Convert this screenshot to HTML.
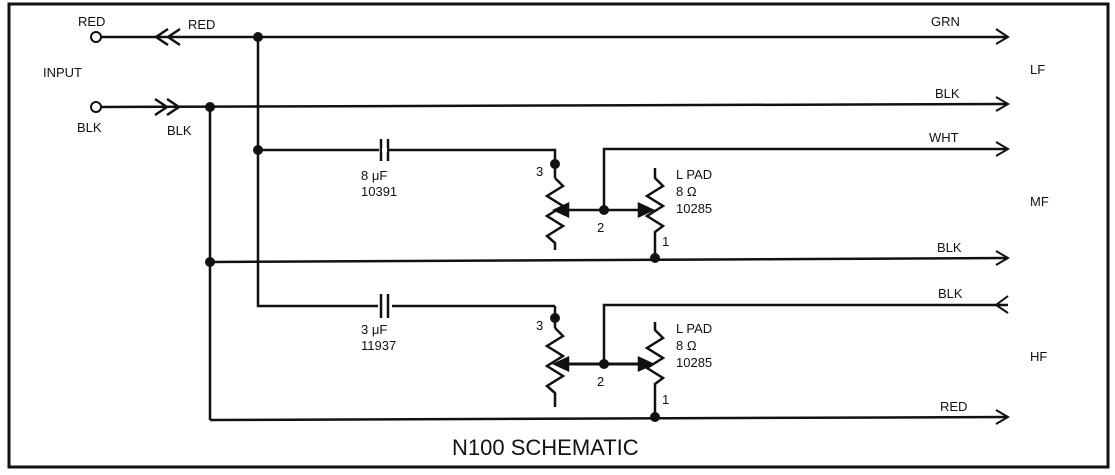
<!DOCTYPE html>
<html><head><style>
body{margin:0;background:#fff;}
svg{display:block;}
text{font-family:"Liberation Sans",sans-serif;fill:#111;font-size:13px;}
</style></head><body>
<svg width="1115" height="475" viewBox="0 0 1115 475" xmlns="http://www.w3.org/2000/svg">
<g stroke="#111" fill="none" stroke-width="2.5">
<rect x="9" y="4" width="1099" height="463" stroke-width="3"/>
<circle cx="96" cy="37" r="5" stroke-width="2"/>
<line x1="101" y1="37" x2="1008" y2="37"/>
<polyline points="168,29 156,37 168,45"/><polyline points="180,29 168,37 180,45"/>
<polyline points="996,29 1008,37 996,44" stroke-width="2"/>
<circle cx="96" cy="107" r="5" stroke-width="2"/>
<line x1="101" y1="107" x2="1008" y2="104"/>
<polyline points="155,99 167,107 155,115"/><polyline points="167,99 179,107 167,115"/>
<polyline points="996,97 1008,104 996,111" stroke-width="2"/>
<polyline points="258,37 258,306 555,306"/>
<line x1="210" y1="107" x2="210" y2="420"/>
<line x1="210" y1="262" x2="1008" y2="258"/>
<polyline points="996,251 1008,258 996,265" stroke-width="2"/>
<line x1="210" y1="420" x2="1008" y2="417"/>
<polyline points="996,410 1008,417 996,424" stroke-width="2"/>
<polyline points="258,150 555,150 555,178"/>
<line x1="382" y1="139" x2="382" y2="161" stroke="#fff" stroke-width="6"/>
<line x1="381" y1="139" x2="381" y2="161"/><line x1="388" y1="139" x2="388" y2="161"/>
<line x1="382" y1="150" x2="387" y2="150" stroke="#fff" stroke-width="4"/>
<polyline points="555,178 563,186 547,196 563,206 547,216 563,226 547,236 555,243 555,250"/>
<line x1="566" y1="210" x2="650" y2="210"/>
<polygon points="555,210 568,204 568,216" fill="#111"/>
<polygon points="652,210 639,204 639,216" fill="#111"/>
<polyline points="604,210 604,149 1008,149"/>
<polyline points="996,142 1008,149 996,156" stroke-width="2"/>
<polyline points="655,168 655,178 663,186 647,196 663,206 647,216 663,226 655,232 655,258"/>
<line x1="378" y1="306" x2="392" y2="306" stroke="#fff" stroke-width="6"/>
<line x1="381" y1="294" x2="381" y2="318"/><line x1="388" y1="294" x2="388" y2="318"/>
<line x1="555" y1="306" x2="555" y2="328"/>
<polyline points="555,328 563,336 547,346 563,356 547,366 563,376 547,386 555,393 555,407"/>
<line x1="566" y1="364" x2="650" y2="364" stroke-width="3"/>
<polygon points="555,364 568,358 568,370" fill="#111"/>
<polygon points="652,364 639,358 639,370" fill="#111"/>
<polyline points="604,364 604,305 1008,305"/>
<polyline points="1008,296 996,305 1008,313" stroke-width="2"/>
<polyline points="655,322 655,330 663,338 647,348 663,358 647,368 663,378 655,384 655,417"/>
</g>
<g fill="#111">
<circle cx="258" cy="37" r="5"/><circle cx="210" cy="107" r="5"/><circle cx="258" cy="150" r="5"/>
<circle cx="210" cy="262" r="5"/><circle cx="555" cy="164" r="5"/><circle cx="604" cy="210" r="5"/>
<circle cx="655" cy="258" r="5"/><circle cx="555" cy="318" r="5"/><circle cx="604" cy="364" r="5"/>
<circle cx="655" cy="417" r="5"/>
</g>
<text x="78" y="26">RED</text><text x="188" y="29">RED</text>
<text x="43" y="77">INPUT</text>
<text x="77" y="132">BLK</text><text x="167" y="135">BLK</text>
<text x="931" y="26">GRN</text><text x="1030" y="74">LF</text>
<text x="935" y="98">BLK</text><text x="929" y="142">WHT</text>
<text x="1030" y="206">MF</text><text x="937" y="252">BLK</text>
<text x="938" y="298">BLK</text><text x="1030" y="361">HF</text>
<text x="940" y="411">RED</text>
<text x="361" y="180">8 μF</text><text x="361" y="196">10391</text>
<text x="361" y="334">3 μF</text><text x="361" y="350">11937</text>
<text x="536" y="176">3</text><text x="597" y="232">2</text><text x="662" y="246">1</text>
<text x="536" y="330">3</text><text x="597" y="386">2</text><text x="662" y="404">1</text>
<text x="676" y="179">L PAD</text><text x="676" y="196">8 Ω</text><text x="676" y="213">10285</text>
<text x="676" y="333">L PAD</text><text x="676" y="350">8 Ω</text><text x="676" y="367">10285</text>
<text x="452" y="455" style="font-size:22px">N100 SCHEMATIC</text>
</svg>
</body></html>
